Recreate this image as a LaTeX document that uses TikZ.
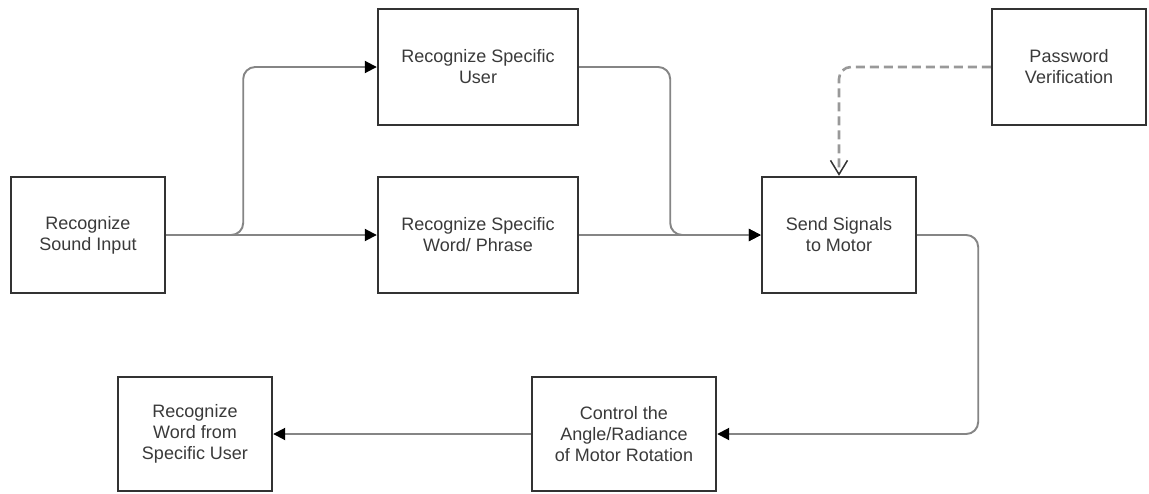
\documentclass[tikz,border=0pt]{standalone}
\usepackage{fontspec}
\setmainfont{Liberation Sans}
\usetikzlibrary{arrows.meta}
\definecolor{boxline}{HTML}{333333}
\definecolor{txt}{HTML}{3A3A3A}
\definecolor{conncol}{HTML}{858585}
\definecolor{dashcol}{HTML}{999999}
\tikzset{
  blockbox/.style={draw=boxline, line width=2.4pt, fill=white, minimum height=116pt,
    text=txt, align=center, inner sep=2pt, font=\fontsize{18}{21}\selectfont},
  conn/.style={draw=conncol, line width=1.9pt, rounded corners=12pt},
  tip/.style={-{Triangle[length=12pt,width=12pt,color=black]}},
  dashconn/.style={draw=dashcol, line width=2.6pt, dash pattern=on 9pt off 5pt, rounded corners=12pt,
    -{Straight Barb[length=14pt,width=17pt,color=boxline,line width=1.5pt]}}
}
\begin{document}
\begin{tikzpicture}[x=1pt,y=-1pt]
\useasboundingbox (0,0) rectangle (1149,493);
\fill[white] (0,0) rectangle (1149,493);

\node[blockbox, minimum width=154pt] (b1) at (88,235) {Recognize\\Sound Input};
\node[blockbox, minimum width=200pt] (b2) at (478,67) {Recognize Specific\\User};
\node[blockbox, minimum width=200pt] (b3) at (478,235) {Recognize Specific\\Word/ Phrase};
\node[blockbox, minimum width=154pt] (b4) at (1069,67) {Password\\Verification};
\node[blockbox, minimum width=154pt] (b5) at (839,235) {Send Signals\\to Motor};
\node[blockbox, minimum width=184pt, minimum height=114pt] (b6) at (624,434) {Control the\\Angle/Radiance\\of Motor Rotation};
\node[blockbox, minimum width=154pt, minimum height=114pt] (b7) at (195,434) {Recognize\\Word from\\Specific User};

\draw[conn, tip] (b1.east) -- ++(77,0) |- (b2.west);
\draw[conn, tip] (b1.east) -- (b3.west);
\draw[conn, tip] (b2.east) -- ++(91,0) |- (b5.west);
\draw[conn, tip] (b3.east) -- (b5.west);
\draw[dashconn] (b4.west) -| (b5.north);
\draw[conn, tip] (b5.east) -- ++(61,0) |- (b6.east);
\draw[conn, tip] (b6.west) -- (b7.east);
\end{tikzpicture}
\end{document}
